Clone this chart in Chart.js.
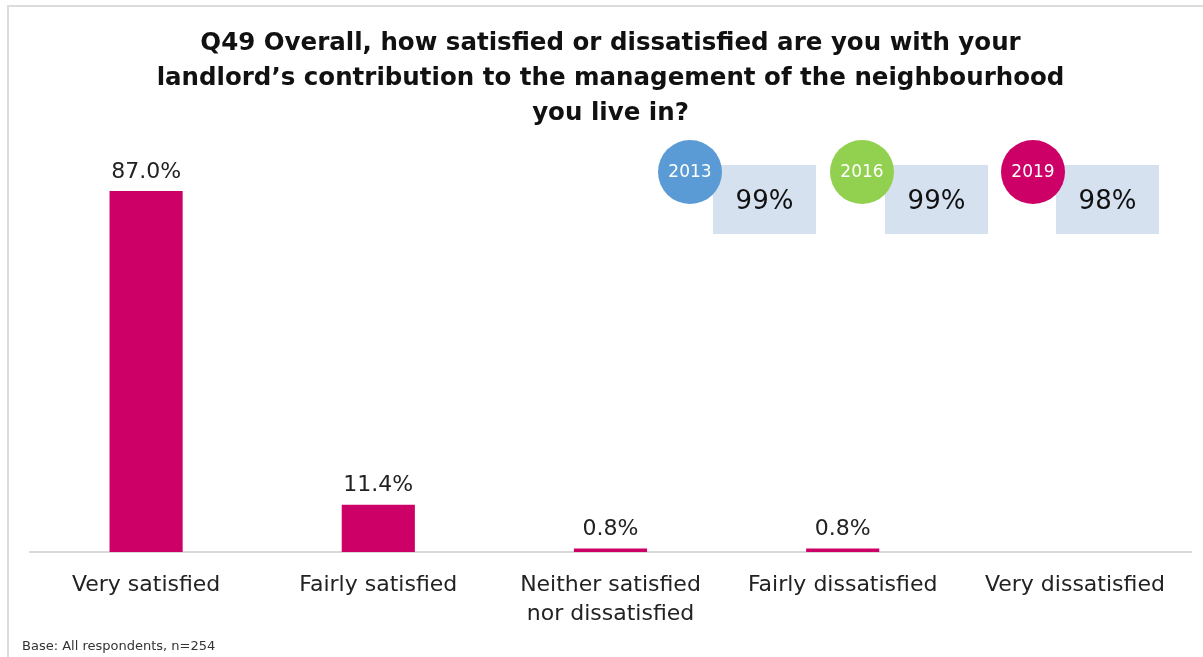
<!DOCTYPE html>
<html>
<head>
<meta charset="utf-8">
<script src="https://cdn.jsdelivr.net/npm/chart.js@4"></script>
<style>
  html, body { margin: 0; padding: 0; background: #fff; }
  #wrap { position: relative; width: 1203px; height: 657px; overflow: hidden; }
  #frame { position: absolute; left: 7px; top: 5px; right: -10px; bottom: -10px; border-left: 2px solid #dcdcdc; border-top: 2px solid #dcdcdc; }
  canvas { position: absolute; left: 0; top: 0; }
  .badge { position: absolute; top: 140px; width: 180px; height: 100px; }
  .badge .box { position: absolute; left: 55px; top: 25px; width: 103px; height: 69px; background: #d6e1f0;
    font: 26px 'DejaVu Sans', sans-serif; color: #111; text-align: center; line-height: 70px; }
  .badge .dot { position: absolute; left: 0; top: 0; width: 64px; height: 64px; border-radius: 50%;
    font: 17px 'DejaVu Sans', sans-serif; color: #fff; text-align: center; line-height: 62px; }
  #base { position: absolute; left: 22px; top: 638px; font: 13px 'DejaVu Sans', sans-serif; color: #333; }
</style>
</head>
<body>
<div id="wrap">
  <div id="frame"></div>
  <canvas id="chart" width="1203" height="657"></canvas>
  <div id="badges"></div>
  <div id="base">Base: All respondents, n=254</div>
</div>
<script>
const titleLines = [
  'Q49 Overall, how satisfied or dissatisfied are you with your',
  'landlord\u2019s contribution to the management of the neighbourhood',
  'you live in?'
];
const categories = [
  'Very satisfied',
  'Fairly satisfied',
  ['Neither satisfied', 'nor dissatisfied'],
  'Fairly dissatisfied',
  'Very dissatisfied'
];
const values = [87.0, 11.4, 0.8, 0.8, 0];
const years = ['2013', '2016', '2019'];
const yearScores = [99, 99, 98];
const yearColors = ['#5b9bd5', '#92d050', '#cc0066'];
const badgeLeft = [658, 830, 1001];

const pink = '#cc0066';

// year comparison badges
const badges = document.getElementById('badges');
years.forEach((y, i) => {
  const d = document.createElement('div');
  d.className = 'badge';
  d.style.left = badgeLeft[i] + 'px';
  d.innerHTML = `<div class="box">${yearScores[i]}%</div><div class="dot" style="background:${yearColors[i]}">${y}</div>`;
  badges.appendChild(d);
});

// value labels above each bar (skip empty categories)
const valueLabels = {
  id: 'valueLabels',
  afterDatasetsDraw(chart) {
    const ctx = chart.ctx;
    const meta = chart.getDatasetMeta(0);
    ctx.save();
    ctx.font = '22px "DejaVu Sans", sans-serif';
    ctx.fillStyle = '#222';
    ctx.textAlign = 'center';
    ctx.textBaseline = 'bottom';
    meta.data.forEach((bar, i) => {
      if (!values[i]) return;
      ctx.fillText(values[i].toFixed(1) + '%', bar.x, bar.y - 8);
    });
    ctx.restore();
  }
};

new Chart(document.getElementById('chart'), {
  type: 'bar',
  data: {
    labels: categories,
    datasets: [{ data: values, backgroundColor: pink, categoryPercentage: 1, barPercentage: 0.315 }]
  },
  options: {
    responsive: false,
    animation: false,
    layout: { padding: { left: 30, right: 12, bottom: 17, top: 0 } },
    plugins: {
      legend: { display: false },
      tooltip: { enabled: false },
      title: {
        display: true,
        text: titleLines,
        color: '#111',
        font: { family: '"DejaVu Sans", sans-serif', size: 24.5, weight: 'bold', lineHeight: 1.43 },
        padding: { top: 26, bottom: 6 }
      }
    },
    scales: {
      x: {
        grid: { display: false },
        border: { color: '#d9d9d9', width: 2 },
        ticks: { color: '#222', font: { family: '"DejaVu Sans", sans-serif', size: 22, lineHeight: 1.32 }, padding: 11, maxRotation: 0, autoSkip: false }
      },
      y: { display: false, min: 0, max: 100 }
    }
  },
  plugins: [valueLabels]
});
</script>
</body>
</html>
